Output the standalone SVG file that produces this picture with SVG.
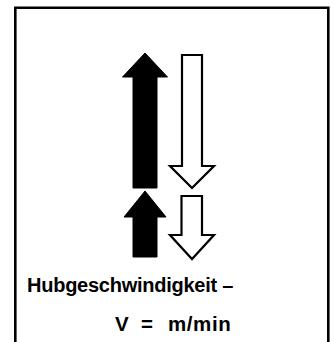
<svg xmlns="http://www.w3.org/2000/svg" width="334" height="342" viewBox="0 0 334 342">
  <style>
    .frame { fill: none; stroke: #000; stroke-width: 2.6; }
    .up { fill: #000; stroke: #000; stroke-width: 1; stroke-linejoin: miter; }
    .down { fill: #fff; stroke: #000; stroke-width: 2.2; stroke-linejoin: miter; }
    .lbl { font-family: "Liberation Sans", Arial, sans-serif; font-weight: bold; fill: #000; }
  </style>
  <rect width="334" height="342" fill="#fff"/>
  <!-- open frame, runs off the bottom edge -->
  <path class="frame" d="M15.3,342 V7.8 H328.3 V342"/>

  <g id="lift-up-long">
    <polygon class="up" points="145,53 167.5,77 157,77 157,188 133,188 133,77 122.5,77"/>
  </g>
  <g id="lower-down-long">
    <polygon class="down" points="182,55 202,55 202,166 214,166 192,188 170,166 182,166"/>
  </g>
  <g id="lift-up-short">
    <polygon class="up" points="145,191 166,217 157,217 157,257 133,257 133,217 124,217"/>
  </g>
  <g id="lower-down-short">
    <polygon class="down" points="181.5,196 202,196 202,235 214,235 192,259 170,235 181.5,235"/>
  </g>

  <g id="caption">
    <text class="lbl" x="27" y="292" font-size="20" letter-spacing="-0.25">Hubgeschwindigkeit –</text>
    <text class="lbl" x="115" y="331" font-size="20.5">V</text>
    <text class="lbl" x="141" y="331" font-size="20.5">=</text>
    <text class="lbl" x="168" y="331" font-size="20.5" letter-spacing="0.6">m/min</text>
  </g>
</svg>
